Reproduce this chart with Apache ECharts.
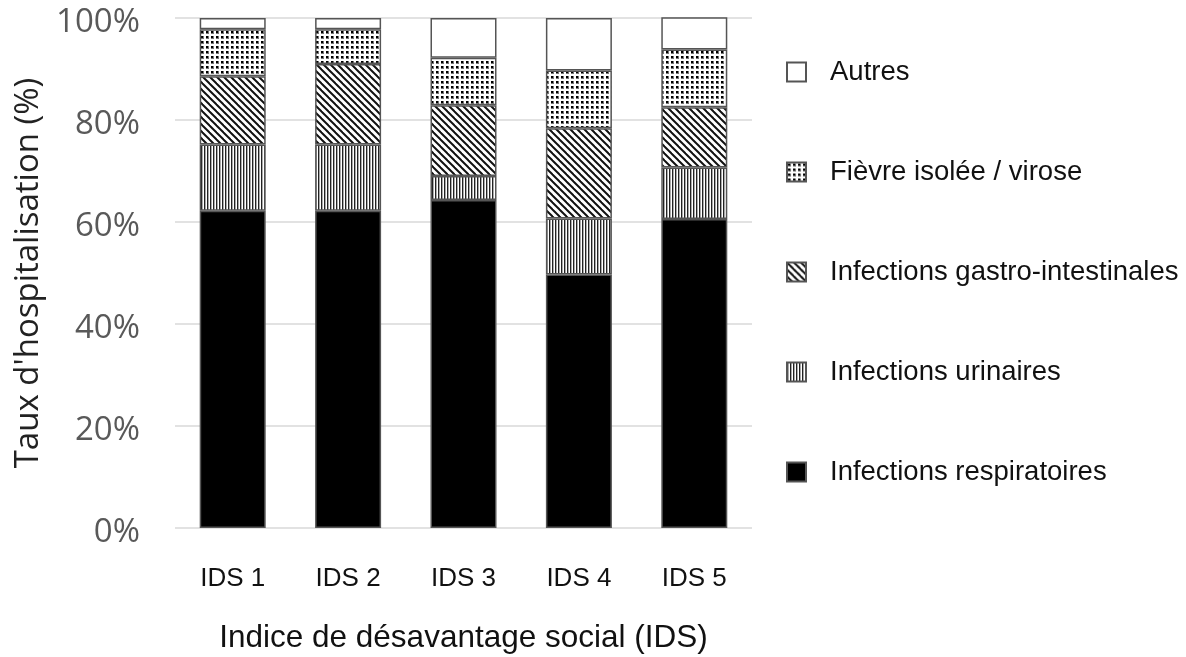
<!DOCTYPE html>
<html>
<head>
<meta charset="utf-8">
<script src="https://cdn.jsdelivr.net/npm/echarts@6/dist/echarts.min.js"></script>
<style>
  html, body { margin: 0; padding: 0; background: #fff; }
  #chart { width: 1186px; height: 657px; }
</style>
</head>
<body>
<div id="chart"></div>
<script>
const categories = ['IDS 1', 'IDS 2', 'IDS 3', 'IDS 4', 'IDS 5'];

// share of each cause (%), bottom to top of every bar
const respiratoires = [62.2, 62.2, 64.3, 49.7, 60.6];
const urinaires = [13.0, 13.0, 4.7, 11.0, 10.1];
const gastro = [13.4, 15.8, 13.9, 17.7, 11.8];
const fievre = [9.2, 6.8, 9.3, 11.3, 11.3];
const autres = [2.2, 2.2, 7.8, 10.3, 8.2];

const legendOrder = [
  'Autres',
  'Fièvre isolée / virose',
  'Infections gastro-intestinales',
  'Infections urinaires',
  'Infections respiratoires'
];

function tile(w, h, draw) {
  const c = document.createElement('canvas');
  c.width = w;
  c.height = h;
  const ctx = c.getContext('2d');
  ctx.fillStyle = '#fff';
  ctx.fillRect(0, 0, w, h);
  draw(ctx);
  return { image: c, repeat: 'repeat' };
}

const stripes = tile(3, 4, (ctx) => {
  ctx.fillStyle = '#222';
  ctx.fillRect(0, 0, 1, 4);
  ctx.fillStyle = '#aaa';
  ctx.fillRect(1, 0, 1, 4);
});

const hatch = tile(7, 7, (ctx) => {
  ctx.strokeStyle = '#111';
  ctx.lineWidth = 2;
  for (const k of [-7, 0, 7]) {
    ctx.beginPath();
    ctx.moveTo(k - 1, -1);
    ctx.lineTo(k + 8, 8);
    ctx.stroke();
  }
});

const dots = tile(5, 5, (ctx) => {
  ctx.fillStyle = '#777';
  ctx.fillRect(1, 1, 3, 3);
  ctx.fillStyle = '#000';
  ctx.fillRect(1, 1, 2, 2);
  ctx.fillRect(2, 2, 1, 1);
});

const border = { borderColor: '#555', borderWidth: 1.5 };

function barSeries(name, data, color) {
  return {
    name: name,
    type: 'bar',
    stack: 'total',
    barWidth: 66,
    data: data,
    itemStyle: Object.assign({ color: color }, border)
  };
}

const chart = echarts.init(document.getElementById('chart'));

chart.setOption({
  animation: false,
  backgroundColor: '#fff',
  grid: { left: 175, right: 434, top: 18, bottom: 129, outerBoundsMode: 'none' },
  legend: {
    orient: 'vertical',
    left: 786,
    top: 58,
    padding: 0,
    itemWidth: 19,
    itemHeight: 19,
    itemGap: 72,
    icon: 'rect',
    data: legendOrder,
    textStyle: {
      fontFamily: 'Liberation Sans, Arial, sans-serif',
      fontSize: 27.5,
      lineHeight: 28,
      color: '#111',
      padding: [0, 0, 0, 19]
    }
  },
  xAxis: {
    type: 'category',
    data: categories,
    axisLine: { show: false },
    axisTick: { show: false },
    axisLabel: {
      margin: 38,
      fontFamily: 'Liberation Sans, Arial, sans-serif',
      fontSize: 26,
      color: '#111'
    },
    name: 'Indice de désavantage social (IDS)',
    nameLocation: 'middle',
    nameGap: 94,
    nameTextStyle: {
      fontFamily: 'Liberation Sans, Arial, sans-serif',
      fontSize: 31.5,
      color: '#111'
    }
  },
  yAxis: {
    type: 'value',
    min: 0,
    max: 100,
    interval: 20,
    axisLine: { show: false },
    axisTick: { show: false },
    splitLine: { lineStyle: { color: '#d9d9d9', width: 1.5 } },
    axisLabel: {
      formatter: (v) => '{t|' + v + '%}',
      margin: 35,
      rich: {
        t: {
          fontFamily: 'Open Sans, sans-serif',
          fontSize: 33,
          color: '#595959',
          padding: [10, 0, 0, 0]
        }
      }
    },
    name: "Taux d'hospitalisation (%)",
    nameLocation: 'middle',
    nameRotate: 90,
    nameGap: 130,
    nameTextStyle: {
      fontFamily: 'Open Sans, sans-serif',
      fontSize: 33,
      color: '#222'
    }
  },
  series: [
    barSeries('Infections respiratoires', respiratoires, '#000'),
    barSeries('Infections urinaires', urinaires, stripes),
    barSeries('Infections gastro-intestinales', gastro, hatch),
    barSeries('Fièvre isolée / virose', fievre, dots),
    barSeries('Autres', autres, '#fff')
  ]
});
</script>
</body>
</html>
